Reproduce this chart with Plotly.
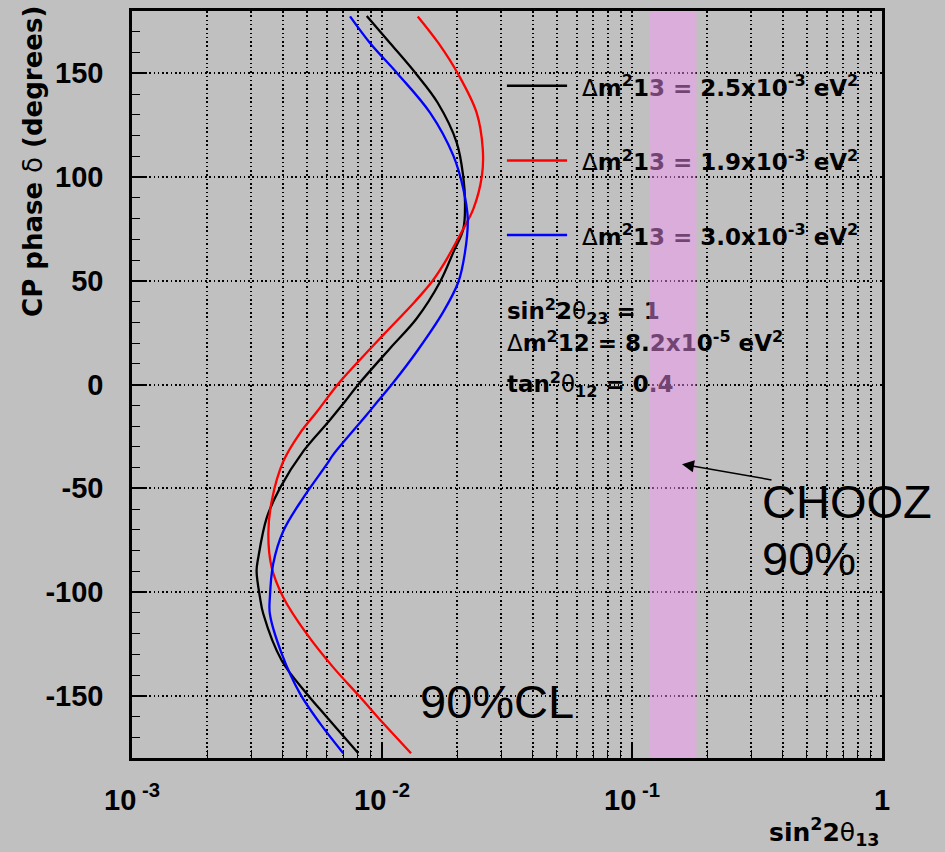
import plotly.graph_objects as go

# CP phase (degrees) and sin^2(2 theta13) sensitivity at 90% CL, one contour per dm^2_13
delta_25 = [-177.7, -160.2, -149.0, -133.0, -110.5, -102.6, -89.8, -83.4, -64.2, -49.8, -32.2, -17.8,
            -8.2, 0.0, 17.4, 31.8, 49.4, 63.8, 75.0, 87.8, 99.8, 116.6, 135.8, 149.4, 164.6, 177.6]
sin2_25 = [0.00804, 0.00601, 0.00500, 0.00397, 0.00335, 0.00325, 0.00315, 0.00320, 0.00346, 0.00391,
           0.00484, 0.00612, 0.00711, 0.00804, 0.01076, 0.01376, 0.01706, 0.01930, 0.02115, 0.02148,
           0.02115, 0.01990, 0.01670, 0.01376, 0.01076, 0.00869]

delta_19 = [-177.7, -163.3, -150.6, -136.2, -120.2, -102.6, -88.2, -72.1, -56.2, -37.0, -23.4, -13.0,
            0.0, 10.2, 23.9, 39.8, 49.4, 59.0, 73.4, 84.6, 100.6, 113.4, 131.0, 149.4, 164.6, 177.4]
sin2_19 = [0.01306, 0.01012, 0.00817, 0.00637, 0.00500, 0.00403, 0.00362, 0.00351, 0.00362, 0.00403,
           0.00470, 0.00550, 0.00665, 0.00792, 0.01012, 0.01350, 0.01580, 0.01786, 0.02080, 0.02320,
           0.02510, 0.02530, 0.02390, 0.02020, 0.01680, 0.01390]

delta_30 = [-177.7, -163.3, -149.0, -129.7, -110.5, -102.6, -86.5, -70.6, -54.6, -38.5, -33.8, -14.6,
            -8.2, 0.0, 15.8, 35.0, 49.4, 63.8, 79.8, 94.2, 110.3, 131.0, 149.4, 164.6, 177.4]
sin2_30 = [0.00700, 0.00565, 0.00470, 0.00397, 0.00356, 0.00356, 0.00367, 0.00403, 0.00484, 0.00601,
           0.00638, 0.00869, 0.00960, 0.01094, 0.01376, 0.01758, 0.02020, 0.02148, 0.02203, 0.02115,
           0.01929, 0.01556, 0.01162, 0.00895, 0.00745]

# CHOOZ 90% excluded band in sin^2(2 theta13)
chooz_band = [0.117, 0.181]

x_tickvals = [0.001, 0.01, 0.1, 1]
x_ticktext = ["10<sup> -3</sup>", "10<sup> -2</sup>", "10<sup> -1</sup>", "1"]
x_minor = [m * 10.0 ** e for e in (-3, -2, -1) for m in range(2, 10)]
y_tickvals = [-150, -100, -50, 0, 50, 100, 150]
y_ticktext = ["-150", "-100", "-50", "0", "50", "100", "150"]

series = [
    ("2.5", delta_25, sin2_25, "#000000"),
    ("1.9", delta_19, sin2_19, "#ff0000"),
    ("3.0", delta_30, sin2_30, "#0000ff"),
]

# legend rows (sample line span in sin2, line delta, text delta)
legend_line_x = [0.0316, 0.0550]
legend_text_x = 0.0631
legend_line_y = [144, 108, 72]
legend_text_y = [142, 106, 70]

param_text_x = 0.0316
param_text_y = [34.1, 18.7, -1.0]
param_text = [
    "sin<sup>2</sup>2<span style='font-weight:normal'>θ</span><sub>23</sub> = 1",
    "<span style='font-weight:normal'>Δ</span>m<sup>2</sup>12 = 8.2x10<sup>-5</sup> eV<sup>2</sup>",
    "tan<sup>2</sup><span style='font-weight:normal'>θ</span><sub>12</sub> = 0.4",
]

BG = "#c0c0c0"
TXT = dict(family="DejaVu Sans", size=23, color="black", weight="bold")

fig = go.Figure()

for label, d, s, col in series:
    fig.add_trace(go.Scatter(x=s, y=d, mode="lines", line=dict(color=col, width=2.3, shape="spline", smoothing=1.0),
                             showlegend=False, hoverinfo="skip"))

# legend text and parameter text drawn inside the plot so the band overlays them
for (label, d, s, col), ty in zip(series, legend_text_y):
    fig.add_trace(go.Scatter(x=[legend_text_x], y=[ty], mode="text", textposition="middle right",
                             text=["<span style='font-weight:normal'>Δ</span>m<sup>2</sup>13 = "
                                   + label + "x10<sup>-3</sup> eV<sup>2</sup>"],
                             textfont=TXT, showlegend=False, hoverinfo="skip"))
for t, ty in zip(param_text, param_text_y):
    fig.add_trace(go.Scatter(x=[param_text_x], y=[ty], mode="text", textposition="middle right",
                             text=[t], textfont=TXT, showlegend=False, hoverinfo="skip"))

shapes = []
for (label, d, s, col), ly in zip(series, legend_line_y):
    shapes.append(dict(type="line", xref="x", yref="y", x0=legend_line_x[0], x1=legend_line_x[1], y0=ly, y1=ly,
                       line=dict(color=col, width=2.5)))
shapes.append(dict(type="rect", xref="x", yref="paper", x0=chooz_band[0], x1=chooz_band[1], y0=0, y1=1,
                   fillcolor="rgb(250,150,250)", opacity=0.45, line=dict(width=0), layer="above"))

annotations = [
    dict(x=-0.8, y=-38.4, ax=-0.436, ay=-46.1, xref="x", yref="y", axref="x", ayref="y", text="",
         showarrow=True, arrowhead=2, arrowsize=1.6, arrowwidth=1.5, arrowcolor="black"),
    dict(x=-0.488, y=-56.3, xref="x", yref="y", text="CHOOZ", showarrow=False, xanchor="left", yanchor="middle",
         font=dict(family="Liberation Sans", size=47, color="black")),
    dict(x=-0.488, y=-83.8, xref="x", yref="y", text="90%", showarrow=False, xanchor="left", yanchor="middle",
         font=dict(family="Liberation Sans", size=47, color="black")),
    dict(x=-1.856, y=-152.8, xref="x", yref="y", text="90%CL", showarrow=False, xanchor="left", yanchor="middle",
         font=dict(family="Liberation Sans", size=47, color="black")),
    dict(x=-0.132, y=0.798, xref="paper", yref="paper", textangle=-90, showarrow=False,
         text="CP phase <span style='font-weight:normal'>δ</span> (degrees)", xanchor="center", yanchor="middle",
         font=dict(family="DejaVu Sans", size=26, color="black", weight="bold")),
    dict(x=1.0, y=-0.126, xref="paper", yref="paper", showarrow=False, xanchor="right", yanchor="bottom",
         text="sin<sup>2</sup>2<span style='font-weight:normal'>θ</span><sub>13</sub>",
         font=dict(family="DejaVu Sans", size=25, color="black", weight="bold")),
]

grid = dict(gridcolor="black", gridwidth=1.5, griddash="1.5px,2.8px")
tickfont = dict(family="Liberation Sans", size=29, color="black", weight="bold")

fig.update_layout(
    width=945, height=852, autosize=False,
    margin=dict(l=132, r=63, t=8, b=94),
    paper_bgcolor=BG, plot_bgcolor=BG,
    shapes=shapes, annotations=annotations, showlegend=False,
    xaxis=dict(type="log", range=[-3, 0], tickvals=x_tickvals, ticktext=x_ticktext, ticks="inside",
               ticklen=15, tickwidth=1.5, tickcolor="black", tickfont=tickfont, ticklabelstandoff=14,
               showgrid=True, **grid, zeroline=False, showline=True, linewidth=2.5, linecolor="black", mirror=True,
               minor=dict(tickvals=x_minor, ticks="inside", ticklen=8, tickwidth=1.2, tickcolor="black",
                          showgrid=True, **grid)),
    yaxis=dict(range=[-180, 180], tickvals=y_tickvals, ticktext=y_ticktext, ticks="inside", ticklen=15,
               tickwidth=1.5, tickcolor="black", tickfont=tickfont, ticklabelstandoff=20, showgrid=True, **grid,
               zeroline=False, showline=True, linewidth=2.5, linecolor="black", mirror=True,
               minor=dict(dtick=10, tick0=0, ticks="inside", ticklen=8, tickwidth=1.2, tickcolor="black",
                          showgrid=False)),
)

fig.write_html("out.html")
